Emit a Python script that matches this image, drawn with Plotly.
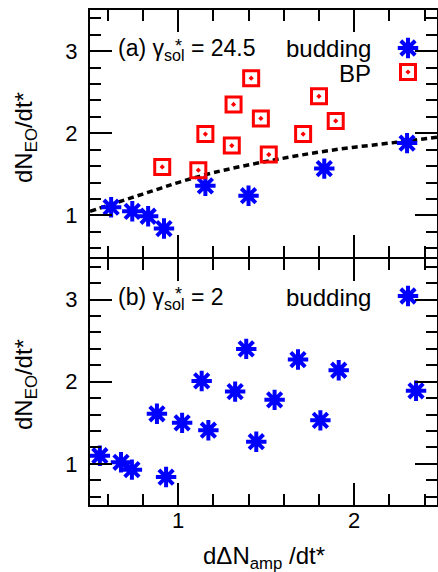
import plotly.graph_objects as go

# ---------------- data ----------------
bud_a_x = [0.62, 0.74, 0.83, 0.92, 1.155, 1.40, 1.83, 2.30]
bud_a_y = [1.10, 1.05, 0.99, 0.84, 1.36, 1.24, 1.57, 1.88]

bp_a_x = [0.91, 1.115, 1.155, 1.305, 1.315, 1.415, 1.47, 1.515, 1.71, 1.80, 1.895]
bp_a_y = [1.59, 1.55, 1.99, 1.85, 2.35, 2.67, 2.18, 1.74, 1.99, 2.45, 2.15]

fit_a_x = [0.50, 0.60, 0.70, 0.80, 0.90, 1.00, 1.20, 1.52, 1.86, 2.24, 2.47]
fit_a_y = [1.05, 1.12, 1.19, 1.26, 1.33, 1.40, 1.52, 1.665, 1.79, 1.89, 1.95]

bud_b_x = [0.556, 0.676, 0.738, 0.932, 0.880, 1.023, 1.134, 1.172, 1.324, 1.387,
           1.444, 1.548, 1.681, 1.808, 1.912, 2.351]
bud_b_y = [1.10, 1.02, 0.93, 0.84, 1.61, 1.50, 2.01, 1.41, 1.88, 2.40,
           1.27, 1.78, 2.27, 1.53, 2.14, 1.89]

x_ticks = [1, 2]
y_ticks = [1, 2, 3]

# ---------------- layout constants ----------------
W, H = 438, 572
ML, MR, MT, MB = 90, 1, 10, 67
PW, PH = W - ML - MR, H - MT - MB
FONT = "Liberation Sans, Arial, Helvetica, sans-serif"
BLUE = "#0000ff"
RED = "#ff0000"
GAP = 1.0 / PH  # half of the axis line width, so the shared frame line coincides


def px(x):
    return (x - ML) / PW


def py(y):
    return (H - MB - y) / PH


fig = go.Figure()

ast = dict(symbol="asterisk-open", size=17, color=BLUE,
           line=dict(color=BLUE, width=4))
sq = dict(symbol="square-open-dot", size=15, color=RED,
          line=dict(color=RED, width=3))

# top panel
fig.add_trace(go.Scatter(x=fit_a_x, y=fit_a_y, mode="lines", xaxis="x2", yaxis="y2",
                         line=dict(color="black", width=3.5, dash="6px,4px", shape="spline"),
                         showlegend=False, hoverinfo="skip"))
fig.add_trace(go.Scatter(x=bud_a_x, y=bud_a_y, mode="markers", xaxis="x2", yaxis="y2",
                         marker=ast, name="budding", showlegend=False))
fig.add_trace(go.Scatter(x=bp_a_x, y=bp_a_y, mode="markers", xaxis="x2", yaxis="y2",
                         marker=sq, name="BP", showlegend=False))
# bottom panel
fig.add_trace(go.Scatter(x=bud_b_x, y=bud_b_y, mode="markers", xaxis="x", yaxis="y",
                         marker=ast, name="budding", showlegend=False))

# legend keys (drawn on a full-figure helper axis in paper units)
fig.add_trace(go.Scatter(x=[px(408), px(408)], y=[py(48), py(296)], mode="markers",
                         xaxis="x3", yaxis="y3", marker=ast, showlegend=False, hoverinfo="skip"))
fig.add_trace(go.Scatter(x=[px(408)], y=[py(72)], mode="markers",
                         xaxis="x3", yaxis="y3", marker=sq, showlegend=False, hoverinfo="skip"))

axis_common = dict(
    showline=True, linewidth=2, linecolor="black", mirror="ticks",
    ticks="inside", ticklen=22, tickwidth=1.5, tickcolor="black",
    showgrid=False, zeroline=False,
    tickfont=dict(family=FONT, size=22, color="black"),
    minor=dict(ticks="inside", ticklen=11, tickwidth=1.5, tickcolor="black",
               dtick=0.2, tick0=0, showgrid=False),
)

fig.update_layout(
    width=W, height=H,
    margin=dict(l=ML, r=MR, t=MT, b=MB, autoexpand=False),
    paper_bgcolor="white", plot_bgcolor="rgba(0,0,0,0)",
    font=dict(family=FONT, size=23, color="black"),
    showlegend=False,
    xaxis=dict(axis_common, domain=[0, 1], range=[0.5, 2.47], anchor="y",
               tickmode="array", tickvals=x_ticks, ticktext=[str(v) for v in x_ticks],
               ticklabelstandoff=-5),
    yaxis=dict(axis_common, domain=[0, 0.5 - GAP], range=[0.5, 3.5], anchor="x",
               tickmode="array", tickvals=y_ticks, ticktext=[str(v) for v in y_ticks],
               ticklabelstandoff=6),
    xaxis2=dict(axis_common, domain=[0, 1], range=[0.5, 2.47], anchor="y2",
                tickmode="array", tickvals=x_ticks, showticklabels=False, matches="x"),
    yaxis2=dict(axis_common, domain=[0.5 + GAP, 1], range=[0.5, 3.5], anchor="x2",
                tickmode="array", tickvals=y_ticks, ticktext=[str(v) for v in y_ticks],
                ticklabelstandoff=6),
    xaxis3=dict(domain=[0, 1], range=[0, 1], visible=False, anchor="y3", fixedrange=True),
    yaxis3=dict(domain=[0, 1], range=[0, 1], visible=False, anchor="x3", fixedrange=True),
)

ann = []


def text(t, x, y, xanchor="left", size=23, angle=0):
    ann.append(dict(text=t, x=px(x), y=py(y), xref="paper", yref="paper",
                    xanchor=xanchor, yanchor="middle", showarrow=False,
                    textangle=angle, font=dict(family=FONT, size=size, color="black")))


# panel labels
text("(a) γ<sub>sol</sub> = 24.5", 116, 50)
text("*", 178, 46, xanchor="center", size=18)
text("(b) γ<sub>sol</sub> = 2", 116, 298)
text("*", 178, 294, xanchor="center", size=18)
# legend texts
text("budding", 373, 49, xanchor="right", size=24)
text("BP", 373, 73, xanchor="right", size=24)
text("budding", 373, 297, xanchor="right", size=24)
# axis titles
text("dN<sub>EO</sub>/dt*", 25, 138, xanchor="center", size=24, angle=-90)
text("dN<sub>EO</sub>/dt*", 25, 385, xanchor="center", size=24, angle=-90)
text("dΔN<sub>amp</sub> /dt*", 264, 557, xanchor="center", size=24)

fig.update_layout(annotations=ann)
fig.write_html("out.html", config={"displayModeBar": False},
               post_script="document.body.style.margin='0';document.body.style.overflow='hidden';")
